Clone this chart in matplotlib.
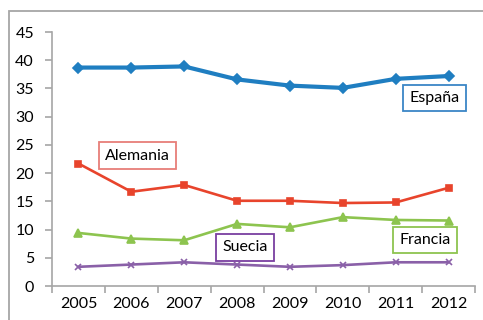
import matplotlib
matplotlib.use("Agg")
import matplotlib.pyplot as plt
from matplotlib.patches import Rectangle

years = ["2005", "2006", "2007", "2008", "2009", "2010", "2011", "2012"]
espana = [38.7, 38.7, 38.9, 36.6, 35.5, 35.1, 36.7, 37.2]
alemania = [21.7, 16.7, 17.9, 15.1, 15.1, 14.7, 14.8, 17.4]
francia = [9.4, 8.4, 8.1, 11.0, 10.4, 12.2, 11.7, 11.6]
suecia = [3.4, 3.8, 4.2, 3.8, 3.4, 3.7, 4.2, 4.2]
yticks = [0, 5, 10, 15, 20, 25, 30, 35, 40, 45]

plt.rcParams["font.family"] = ["Lato", "DejaVu Sans"]
FS = 11.5

fig = plt.figure(figsize=(4.83, 3.2), dpi=100)
fig.patch.set_facecolor("white")

# chart-area frame
fig.patches.append(Rectangle((8.5 / 483, -0.2), 1.2, 1.2 - 10.5 / 320,
                             transform=fig.transFigure, fill=False,
                             edgecolor="#a6a6a6", linewidth=1.3))

ax = fig.add_axes([52 / 483, 1 - 286 / 320, (475 - 52) / 483, (286 - 32) / 320])
x = list(range(len(years)))

series = [
    ("España", espana, "#1f7ec1", "D", 3.0, 5.0),
    ("Alemania", alemania, "#e8442c", "s", 1.9, 4.8),
    ("Francia", francia, "#8dc44f", "^", 1.9, 5.5),
    ("Suecia", suecia, "#8a60a8", "x", 1.9, 4.5),
]
for name, vals, col, mk, lw, ms in series:
    ax.plot(x, vals, color=col, linewidth=lw, marker=mk, markersize=ms,
            markeredgecolor=col, markerfacecolor=col, markeredgewidth=1.2,
            solid_joinstyle="round")

ax.set_xlim(-0.5, len(years) - 0.5)
ax.set_ylim(0, 45)
ax.set_yticks(yticks)
ax.set_yticklabels([str(v) for v in yticks], fontsize=FS)

ax.set_xticks([i - 0.5 for i in range(len(years) + 1)])
ax.set_xticklabels([])
ax.set_xticks(x, minor=True)
ax.set_xticklabels(years, minor=True, fontsize=FS)
ax.tick_params(axis="x", which="minor", length=0, pad=8)
ax.tick_params(axis="x", which="major", length=5, color="#a6a6a6", width=1.2)
ax.tick_params(axis="y", length=5, color="#a6a6a6", width=1.2, pad=8)

for s in ["top", "right"]:
    ax.spines[s].set_visible(False)
for s in ["left", "bottom"]:
    ax.spines[s].set_color("#a6a6a6")
    ax.spines[s].set_linewidth(1.2)

labels = [
    ("España", 6.74, 33.3, "#3a86c6"),
    ("Alemania", 1.12, 23.1, "#e77e78"),
    ("Francia", 6.56, 8.15, "#8dc44f"),
    ("Suecia", 3.15, 6.87, "#7a3fa0"),
]
for txt, lx, ly, ec in labels:
    ax.text(lx, ly, txt, fontsize=FS, ha="center", va="center",
            bbox=dict(boxstyle="square,pad=0.4", facecolor="white",
                      edgecolor=ec, linewidth=1.3))

fig.savefig("out.png", dpi=100)
